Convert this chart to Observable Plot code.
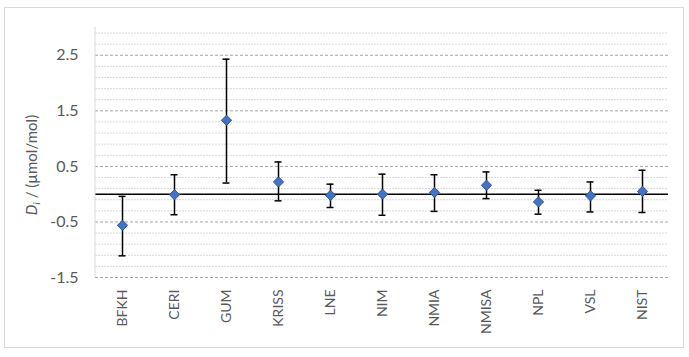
<!DOCTYPE html>
<html>
<head>
<meta charset="utf-8">
<script src="https://cdn.jsdelivr.net/npm/d3@7"></script>
<script src="https://cdn.jsdelivr.net/npm/@observablehq/plot@0.6"></script>
<style>
  html, body { margin: 0; padding: 0; background: #fff; }
  #wrap { position: relative; width: 689px; height: 357px; font-family: Lato, "Open Sans", sans-serif; }
  #border { position: absolute; left: 4px; top: 7px; width: 678px; height: 339px; border: 1.5px solid #d9d9d9; pointer-events: none; }
</style>
</head>
<body>
<div id="wrap"><div id="border"></div></div>
<script>
const categories = ["BFKH", "CERI", "GUM", "KRISS", "LNE", "NIM", "NMIA", "NMISA", "NPL", "VSL", "NIST"];
const values = [-0.56, -0.01, 1.33, 0.22, -0.02, 0.00, 0.03, 0.16, -0.14, -0.03, 0.05];
const upper  = [-0.04, 0.35, 2.43, 0.58, 0.18, 0.36, 0.35, 0.40, 0.07, 0.22, 0.43];
const lower  = [-1.11, -0.37, 0.20, -0.12, -0.24, -0.38, -0.31, -0.08, -0.36, -0.32, -0.33];
const majorTicks = [-1.5, -0.5, 0.5, 1.5, 2.5];
const minorTicks = [-1.3, -1.1, -0.9, -0.7, -0.3, -0.1, 0.1, 0.3, 0.7, 0.9, 1.1, 1.3, 1.7, 1.9, 2.1, 2.3, 2.7, 2.9];

const data = categories.map((c, i) => ({cat: c, v: values[i], hi: upper[i], lo: lower[i]}));

const textColor = "#595959";

const chart = Plot.plot({
  width: 689,
  height: 357,
  marginLeft: 95,
  marginRight: 21,
  marginTop: 27,
  marginBottom: 80,
  style: {fontFamily: "Lato, 'Open Sans', sans-serif", background: "transparent"},
  x: {domain: categories, padding: 0, axis: null},
  y: {domain: [-1.5, 3.0], axis: null},
  marks: [
    Plot.ruleY(minorTicks, {stroke: "#d9d9d9", strokeDasharray: "2,1", strokeWidth: 1}),
    Plot.ruleY(majorTicks, {stroke: "#a6a6a6", strokeDasharray: "3,2", strokeWidth: 1}),
    Plot.ruleY([0], {stroke: "#000", strokeWidth: 1.5}),
    Plot.ruleX(data, {x: "cat", y1: "lo", y2: "hi", stroke: "#000", strokeWidth: 1.5}),
    Plot.tickY(data, {x: "cat", y: "hi", stroke: "#000", strokeWidth: 1.5, insetLeft: 22.5, insetRight: 22.5}),
    Plot.tickY(data, {x: "cat", y: "lo", stroke: "#000", strokeWidth: 1.5, insetLeft: 22.5, insetRight: 22.5}),
    Plot.dot(data, {x: "cat", y: "v", symbol: "diamond2", r: 4.6, fill: "#4472c4", stroke: "#2f5597", strokeWidth: 1}),
    Plot.axisY({ticks: majorTicks, tickSize: 0, tickPadding: 17, fontSize: 16, color: textColor, label: null, tickFormat: d => d.toFixed(1)}),
    Plot.axisX({tickSize: 0, tickRotate: -90, tickPadding: 12, fontSize: 14, color: textColor, label: null})
  ]
});

const wrap = document.getElementById("wrap");
wrap.insertBefore(chart, wrap.firstChild);

const svg = d3.select(chart);
// left axis line
svg.append("line")
  .attr("x1", 95).attr("x2", 95).attr("y1", 27).attr("y2", 277)
  .attr("stroke", "#d9d9d9").attr("stroke-width", 1);

// y title
const t = svg.append("text")
  .attr("transform", "translate(37,165) rotate(-90)")
  .attr("text-anchor", "middle")
  .attr("fill", textColor)
  .attr("font-size", 15);
t.append("tspan").attr("font-style", "italic").text("D");
t.append("tspan").attr("font-style", "italic").attr("font-size", 10).attr("dy", 3).text("i");
t.append("tspan").attr("dy", -3).text(" / (µmol/mol)");
</script>
</body>
</html>
